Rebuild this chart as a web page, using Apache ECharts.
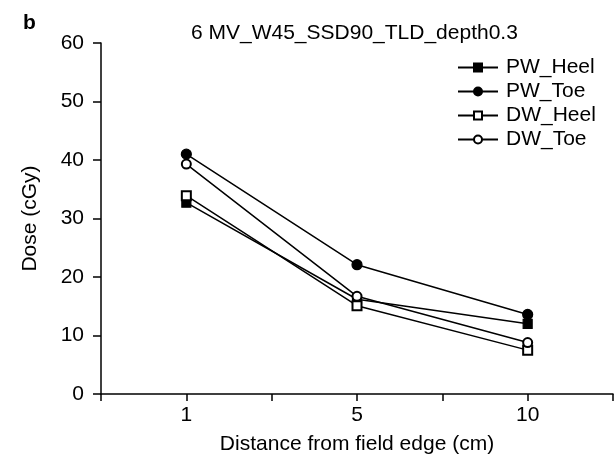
<!DOCTYPE html>
<html>
<head>
<meta charset="utf-8">
<script src="https://cdn.jsdelivr.net/npm/echarts@6/dist/echarts.min.js"></script>
<style>
  html, body { margin: 0; padding: 0; background: #fff; }
  #chart { width: 616px; height: 461px; }
</style>
</head>
<body>
<div id="chart"></div>
<script>
// x positions: blank slots give the extra ticks between the labelled distances
const distances = ['', '1', '', '5', '', '10', '']
const pwHeel = [null, 32.7, null, 16.2, null, 12.0, null]
const pwToe = [null, 41.0, null, 22.1, null, 13.6, null]
const dwHeel = [null, 33.9, null, 15.1, null, 7.5, null]
const dwToe = [null, 39.3, null, 16.7, null, 8.8, null]
const yTicks = [0, 10, 20, 30, 40, 50, 60]

const font = 'Liberation Sans, Arial, sans-serif'

function makeSeries(name, data, symbol, size) {
  return {
    name,
    type: 'line',
    data,
    connectNulls: true,
    symbol,
    symbolSize: size,
    showAllSymbol: true,
    lineStyle: { color: '#000', width: 1.5 },
    itemStyle: { color: '#000', borderColor: '#000', borderWidth: 1.2 },
    emphasis: { disabled: true },
    z: 3
  }
}

const chart = echarts.init(document.getElementById('chart'), null, { renderer: 'canvas' })

chart.setOption({
  animation: false,
  backgroundColor: '#fff',
  textStyle: { fontFamily: font, color: '#000' },
  title: [
    {
      text: 'b',
      left: 18,
      top: 8,
      textStyle: { fontSize: 21, fontWeight: 'bold', color: '#000', fontFamily: font }
    },
    {
      text: '6 MV_W45_SSD90_TLD_depth0.3',
      left: 186,
      top: 18,
      textStyle: { fontSize: 21, fontWeight: 'normal', color: '#000', fontFamily: font }
    }
  ],
  legend: {
    orient: 'vertical',
    left: 452,
    top: 52,
    itemWidth: 40,
    itemHeight: 10,
    itemGap: 3,
    textStyle: { fontSize: 21, color: '#000', fontFamily: font, padding: [0, 0, 0, 3] },
    data: ['PW_Heel', 'PW_Toe', 'DW_Heel', 'DW_Toe']
  },
  grid: { left: 101, right: 2, top: 43, bottom: 67 },
  xAxis: {
    type: 'category',
    data: distances,
    boundaryGap: false,
    name: 'Distance from field edge (cm)',
    nameLocation: 'middle',
    nameGap: 40,
    nameTextStyle: { fontSize: 21, color: '#000', fontFamily: font },
    axisLine: { lineStyle: { color: '#000', width: 1.5 } },
    axisTick: { show: true, length: 7, interval: 0, lineStyle: { color: '#000', width: 1.5 } },
    axisLabel: { interval: 0, fontSize: 21, color: '#000', margin: 11, fontFamily: font },
    splitLine: { show: false }
  },
  yAxis: {
    type: 'value',
    min: yTicks[0],
    max: yTicks[yTicks.length - 1],
    interval: 10,
    name: 'Dose (cGy)',
    nameLocation: 'middle',
    nameGap: 60,
    nameTextStyle: { fontSize: 21, color: '#000', fontFamily: font },
    axisLine: { show: true, lineStyle: { color: '#000', width: 1.5 } },
    axisTick: { show: true, length: 8, lineStyle: { color: '#000', width: 1.5 } },
    axisLabel: { fontSize: 21, color: '#000', margin: 17, fontFamily: font },
    splitLine: { show: false }
  },
  series: [
    makeSeries('PW_Heel', pwHeel, 'rect', 9),
    makeSeries('PW_Toe', pwToe, 'circle', 10),
    makeSeries('DW_Heel', dwHeel, 'emptyRect', 9),
    makeSeries('DW_Toe', dwToe, 'emptyCircle', 9)
  ]
})
</script>
</body>
</html>
